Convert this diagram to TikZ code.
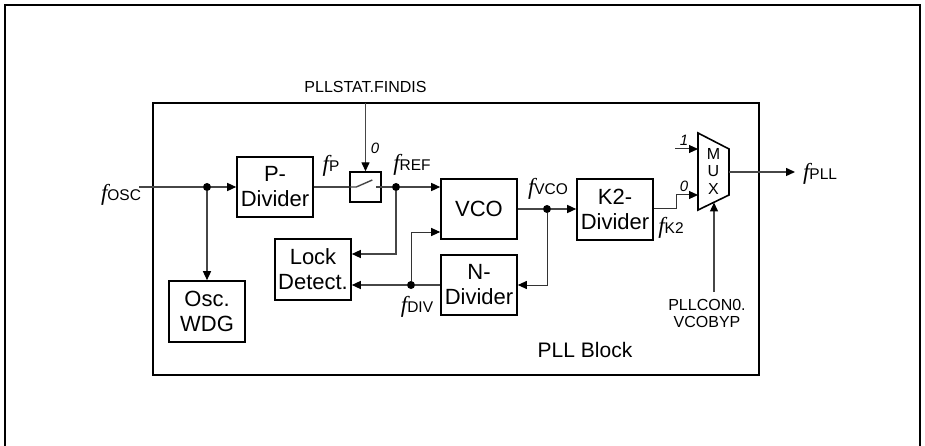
\documentclass[tikz,border=0pt]{standalone}
\usepackage{fontspec}
\setmainfont{Liberation Sans}
\newfontfamily\serfam{Liberation Serif}
\usetikzlibrary{arrows.meta}
\newcommand{\fq}[1]{{\serfam\itshape\fontsize{23}{23}\selectfont f}{\fontsize{15.5}{15.5}\selectfont #1}}
\begin{document}
\begin{tikzpicture}[x=1pt,y=-1pt,
  blk/.style={draw=black,line width=1.6pt,fill=white,minimum width=76pt,minimum height=60pt,inner sep=0pt,align=center,font=\fontsize{22}{25}\selectfont},
  sig/.style={draw=gray!55!black,line width=1.4pt},
  fb/.style={draw=black!80,line width=1pt},
  tip/.style={-{Triangle[length=9pt,width=8pt,color=black]}},
  dot/.style={circle,fill=black,inner sep=0pt,minimum size=8pt},
  lbl/.style={inner sep=0pt,font=\fontsize{16}{17}\selectfont,align=center},
  num/.style={inner sep=0pt,font=\fontsize{15}{15}\selectfont\itshape}]
\useasboundingbox (0,0) rectangle (925,446);
% outer frame
\draw[line width=2pt] (5,446) -- (5,5) -- (920,5) -- (920,446);
% inner frame
\draw[line width=2pt] (153,103) rectangle (759,375);
\node[lbl,font=\fontsize{21}{22}\selectfont] (plllbl) at (585,350) {PLL Block};
% blocks
\node[blk] (pdiv) at (275,187) {P-\\Divider};
\node[draw=black,line width=1.4pt,minimum width=31pt,minimum height=30pt,inner sep=0pt] (sw) at (365.5,187) {};
\node[blk] (vco) at (479,209) {VCO};
\node[blk] (ndiv) at (479,285) {N-\\Divider};
\node[blk,minimum height=61pt] (lock) at (313,269.5) {Lock\\Detect.};
\node[blk,minimum height=61pt] (wdg) at (207,311.5) {Osc.\\WDG};
\node[blk,minimum height=61pt] (k2) at (615,209.5) {K2-\\Divider};
% mux
\coordinate (m1) at (698,133);
\coordinate (m2) at (729,149);
\coordinate (m3) at (729,195);
\coordinate (m4) at (698,210);
\draw[line width=1.6pt,fill=white] (m1) -- (m2) -- (m3) -- (m4) -- cycle;
\node[lbl] (muxM) at (713.5,154) {M};
\node[lbl] (muxU) at (713.5,171) {U};
\node[lbl] (muxX) at (713.5,189) {X};
\coordinate (min1) at (698,149);
\coordinate (min0) at (698,195);
\coordinate (mout) at (729,172);
\coordinate (msel) at (714,202.5);
% dots
\node[dot] (d1) at (207,187) {};
\node[dot] (dref) at (396,187) {};
\node[dot] (dvco) at (547,209) {};
\node[dot] (ddiv) at (411,285) {};
% free ends
\coordinate (oscin) at (139,187);
\coordinate (fintop) at (365.5,103);
\coordinate (in1) at (675,149);
\coordinate (selbot) at (714,292);
\coordinate (pllout) at (795,172);
% labels
\node[inner sep=0pt] (fosc) at (121,195) {\fq{OSC}};
\node[inner sep=0pt] (fp) at (331,166) {\fq{P}};
\node[inner sep=0pt] (fref) at (412,165) {\fq{REF}};
\node[inner sep=0pt] (fvco) at (548,189) {\fq{VCO}};
\node[inner sep=0pt] (fk2) at (671,228) {\fq{K2}};
\node[inner sep=0pt] (fdiv) at (417,307) {\fq{DIV}};
\node[inner sep=0pt] (fpll) at (820,174) {\fq{PLL}};
\node[lbl] (finlbl) at (365.5,87) {PLLSTAT.FINDIS};
\node[num] (zero1) at (375,148) {0};
\node[num] (one) at (684,140) {1};
\node[num] (zero2) at (684,186) {0};
\node[lbl] (vcobyp) at (707,313) {PLLCON0.\\VCOBYP};
% connectors
\draw[sig] (oscin) -- (d1);
\draw[sig,tip] (d1) -- (pdiv.west);
\draw[sig,tip] (d1) -- (wdg.north);
\draw[sig] (pdiv.east) -- (sw.west);
% switch symbol
\draw[sig] (sw.west) -- ++(7,0) -- ++(16,-7);
\draw[sig] (sw.east) -- ++(-6,0);
\draw[sig,tip] (fintop) -- (sw.north);
\draw[sig] (sw.east) -- (dref);
\draw[sig,tip] (dref) -- (vco.west |- dref);
\draw[sig,tip] (dref) |- (lock.east |- 0,254);
\draw[sig] (vco.east |- dvco) -- (dvco);
\draw[sig,tip] (dvco) -- (k2.west |- dvco);
\draw[fb,tip] (dvco) |- (ndiv.east);
\draw[sig] (ndiv.west) -- (ddiv);
\draw[sig,tip] (ddiv) -- (lock.east |- ddiv);
\draw[fb,tip] (ddiv) |- (vco.west |- 0,232);
\draw[fb,tip] (k2.east |- 0,209) -- (676,209) -- (676,195) -- (min0);
\draw[fb,tip] (in1) -- (min1);
\draw[sig,tip] (selbot) -- (msel);
\draw[sig,tip] (mout) -- (pllout);
\end{tikzpicture}
\end{document}
